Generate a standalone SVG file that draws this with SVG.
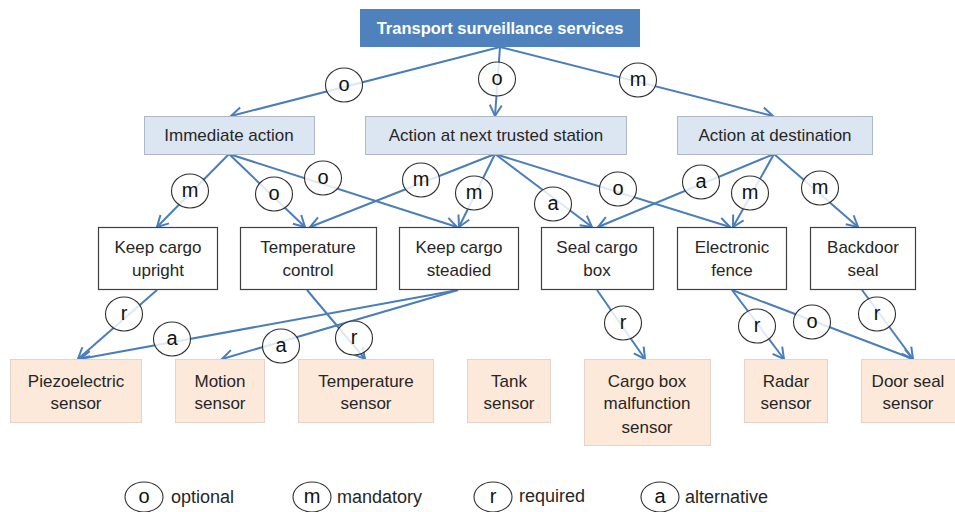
<svg xmlns="http://www.w3.org/2000/svg" width="955" height="512" viewBox="0 0 955 512">
<style>
.t{font-family:"Liberation Sans",Arial,sans-serif;font-size:17px;fill:#262626;text-anchor:middle}
.title{font-family:"Liberation Sans",Arial,sans-serif;font-size:16.5px;font-weight:bold;fill:#fff;text-anchor:middle}
.lvl1{fill:#DCE6F2;stroke:#AEB8C6;stroke-width:1}
.lvl2{fill:#fff;stroke:#404040;stroke-width:1.2}
.sens{fill:#FDE9D9;stroke:#E3D3CA;stroke-width:1}
.e{stroke:#4A7EBB;stroke-width:2;fill:none;marker-end:url(#arr)}
.c{fill:#fff;fill-opacity:0.82;stroke:#303030;stroke-width:1.1}
.cl{font-family:"Liberation Sans",Arial,sans-serif;font-size:20px;fill:#111;text-anchor:middle}
.lg{font-family:"Liberation Sans",Arial,sans-serif;font-size:18px;fill:#262626}
</style>
<defs>
<marker id="arr" viewBox="-13 -8 15 16" refX="0" refY="0" markerWidth="15" markerHeight="16" markerUnits="userSpaceOnUse" orient="auto">
<path d="M -11 -6 L 0 0 L -11 6" fill="none" stroke="#4A7EBB" stroke-width="2"/>
</marker>
</defs>
<rect width="955" height="512" fill="#fff"/>

<g id="connectors">
<line class="e" x1="500" y1="47" x2="231" y2="116"/>
<line class="e" x1="500" y1="47" x2="495" y2="116"/>
<line class="e" x1="500" y1="47" x2="773" y2="116"/>
<line class="e" x1="229" y1="154" x2="157" y2="227"/>
<line class="e" x1="229" y1="154" x2="305" y2="227"/>
<line class="e" x1="229" y1="154" x2="457" y2="227"/>
<line class="e" x1="495" y1="154" x2="310" y2="227"/>
<line class="e" x1="495" y1="154" x2="459" y2="227"/>
<line class="e" x1="495" y1="154" x2="592" y2="227"/>
<line class="e" x1="495" y1="154" x2="730" y2="227"/>
<line class="e" x1="774" y1="154" x2="598" y2="227"/>
<line class="e" x1="774" y1="154" x2="733" y2="227"/>
<line class="e" x1="774" y1="154" x2="858" y2="227"/>
<line class="e" x1="157" y1="290" x2="78" y2="359"/>
<line class="e" x1="307" y1="290" x2="365" y2="359"/>
<line class="e" x1="458" y1="290" x2="80" y2="359"/>
<line class="e" x1="458" y1="290" x2="222" y2="359"/>
<line class="e" x1="597" y1="290" x2="645" y2="359"/>
<line class="e" x1="732" y1="290" x2="784" y2="359"/>
<line class="e" x1="732" y1="290" x2="913" y2="359"/>
<line class="e" x1="862" y1="290" x2="913" y2="359"/>
<g id="labels">
<ellipse class="c" cx="344" cy="85" rx="18.5" ry="17"/><text class="cl" x="344" y="91">o</text>
<ellipse class="c" cx="497" cy="79" rx="18.5" ry="17"/><text class="cl" x="497" y="85">o</text>
<ellipse class="c" cx="638" cy="80" rx="18.5" ry="17"/><text class="cl" x="638" y="86">m</text>
<ellipse class="c" cx="190" cy="191" rx="18.5" ry="17"/><text class="cl" x="190" y="197">m</text>
<ellipse class="c" cx="274" cy="194" rx="18.5" ry="17"/><text class="cl" x="274" y="200">o</text>
<ellipse class="c" cx="323" cy="178" rx="18.5" ry="17"/><text class="cl" x="323" y="184">o</text>
<ellipse class="c" cx="421" cy="180" rx="18.5" ry="17"/><text class="cl" x="421" y="186">m</text>
<ellipse class="c" cx="474" cy="193" rx="18.5" ry="17"/><text class="cl" x="474" y="199">m</text>
<ellipse class="c" cx="553" cy="204" rx="18.5" ry="17"/><text class="cl" x="553" y="210">a</text>
<ellipse class="c" cx="618" cy="189" rx="18.5" ry="17"/><text class="cl" x="618" y="195">o</text>
<ellipse class="c" cx="701" cy="182" rx="18.5" ry="17"/><text class="cl" x="701" y="188">a</text>
<ellipse class="c" cx="750" cy="193" rx="18.5" ry="17"/><text class="cl" x="750" y="199">m</text>
<ellipse class="c" cx="820" cy="188" rx="18.5" ry="17"/><text class="cl" x="820" y="194">m</text>
<ellipse class="c" cx="124" cy="314" rx="18.5" ry="17"/><text class="cl" x="124" y="320">r</text>
<ellipse class="c" cx="354" cy="338" rx="18.5" ry="17"/><text class="cl" x="354" y="344">r</text>
<ellipse class="c" cx="172" cy="339" rx="18.5" ry="17"/><text class="cl" x="172" y="345">a</text>
<ellipse class="c" cx="281" cy="346" rx="18.5" ry="17"/><text class="cl" x="281" y="352">a</text>
<ellipse class="c" cx="623" cy="323" rx="18.5" ry="17"/><text class="cl" x="623" y="329">r</text>
<ellipse class="c" cx="757" cy="326" rx="18.5" ry="17"/><text class="cl" x="757" y="332">r</text>
<ellipse class="c" cx="812" cy="322" rx="18.5" ry="17"/><text class="cl" x="812" y="328">o</text>
<ellipse class="c" cx="877" cy="314" rx="18.5" ry="17"/><text class="cl" x="877" y="320">r</text>
</g>
</g>

<g id="transport-surveillance-services">
<rect x="360" y="9" width="280" height="38" fill="#4F81BD"/>
<text class="title" x="500" y="34">Transport surveillance services</text>
</g>

<g id="immediate-action">
<rect class="lvl1" x="144.5" y="116.5" width="170" height="38"/>
<text class="t" x="229" y="141">Immediate action</text>
</g>
<g id="action-next-station">
<rect class="lvl1" x="365.5" y="116.5" width="261" height="38"/>
<text class="t" x="496" y="141">Action at next trusted station</text>
</g>
<g id="action-destination">
<rect class="lvl1" x="677.5" y="116.5" width="195" height="38"/>
<text class="t" x="775" y="141">Action at destination</text>
</g>

<g id="keep-cargo-upright">
<rect class="lvl2" x="98.5" y="227.5" width="119" height="62"/>
<text class="t" x="158" y="253">Keep cargo</text><text class="t" x="158" y="276">upright</text>
</g>
<g id="temperature-control">
<rect class="lvl2" x="240.5" y="227.5" width="136" height="62"/>
<text class="t" x="308" y="253">Temperature</text><text class="t" x="308" y="276">control</text>
</g>
<g id="keep-cargo-steadied">
<rect class="lvl2" x="399.5" y="227.5" width="119" height="62"/>
<text class="t" x="459" y="253">Keep cargo</text><text class="t" x="459" y="276">steadied</text>
</g>
<g id="seal-cargo-box">
<rect class="lvl2" x="541.5" y="227.5" width="112" height="62"/>
<text class="t" x="597" y="253">Seal cargo</text><text class="t" x="597" y="276">box</text>
</g>
<g id="electronic-fence">
<rect class="lvl2" x="677.5" y="227.5" width="109" height="62"/>
<text class="t" x="732" y="253">Electronic</text><text class="t" x="732" y="276">fence</text>
</g>
<g id="backdoor-seal">
<rect class="lvl2" x="810.5" y="227.5" width="105" height="62"/>
<text class="t" x="863" y="253">Backdoor</text><text class="t" x="863" y="276">seal</text>
</g>

<g id="piezoelectric-sensor">
<rect class="sens" x="10.5" y="359.5" width="131" height="63"/>
<text class="t" x="76" y="387">Piezoelectric</text><text class="t" x="76" y="409">sensor</text>
</g>
<g id="motion-sensor">
<rect class="sens" x="175.5" y="359.5" width="89" height="63"/>
<text class="t" x="220" y="387">Motion</text><text class="t" x="220" y="409">sensor</text>
</g>
<g id="temperature-sensor">
<rect class="sens" x="298.5" y="359.5" width="135" height="63"/>
<text class="t" x="366" y="387">Temperature</text><text class="t" x="366" y="409">sensor</text>
</g>
<g id="tank-sensor">
<rect class="sens" x="467.5" y="359.5" width="83" height="63"/>
<text class="t" x="509" y="387">Tank</text><text class="t" x="509" y="409">sensor</text>
</g>
<g id="cargo-box-malfunction-sensor">
<rect class="sens" x="584.5" y="359.5" width="126" height="86"/>
<text class="t" x="647" y="387">Cargo box</text><text class="t" x="647" y="409">malfunction</text><text class="t" x="647" y="433">sensor</text>
</g>
<g id="radar-sensor">
<rect class="sens" x="744.5" y="359.5" width="83" height="63"/>
<text class="t" x="786" y="387">Radar</text><text class="t" x="786" y="409">sensor</text>
</g>
<g id="door-seal-sensor">
<rect class="sens" x="861.5" y="359.5" width="95" height="63"/>
<text class="t" x="908" y="387">Door seal</text><text class="t" x="908" y="409">sensor</text>
</g>

<g id="legend">
<ellipse class="c" cx="144" cy="497" rx="19" ry="15"/><text class="cl" x="144" y="503">o</text>
<text class="lg" x="171" y="503">optional</text>
<ellipse class="c" cx="312" cy="497" rx="19" ry="15"/><text class="cl" x="312" y="503">m</text>
<text class="lg" x="337" y="503">mandatory</text>
<ellipse class="c" cx="493" cy="497" rx="19" ry="15"/><text class="cl" x="493" y="503">r</text>
<text class="lg" x="519" y="502">required</text>
<ellipse class="c" cx="660" cy="497" rx="19" ry="15"/><text class="cl" x="660" y="503">a</text>
<text class="lg" x="685" y="503">alternative</text>
</g>
</svg>
